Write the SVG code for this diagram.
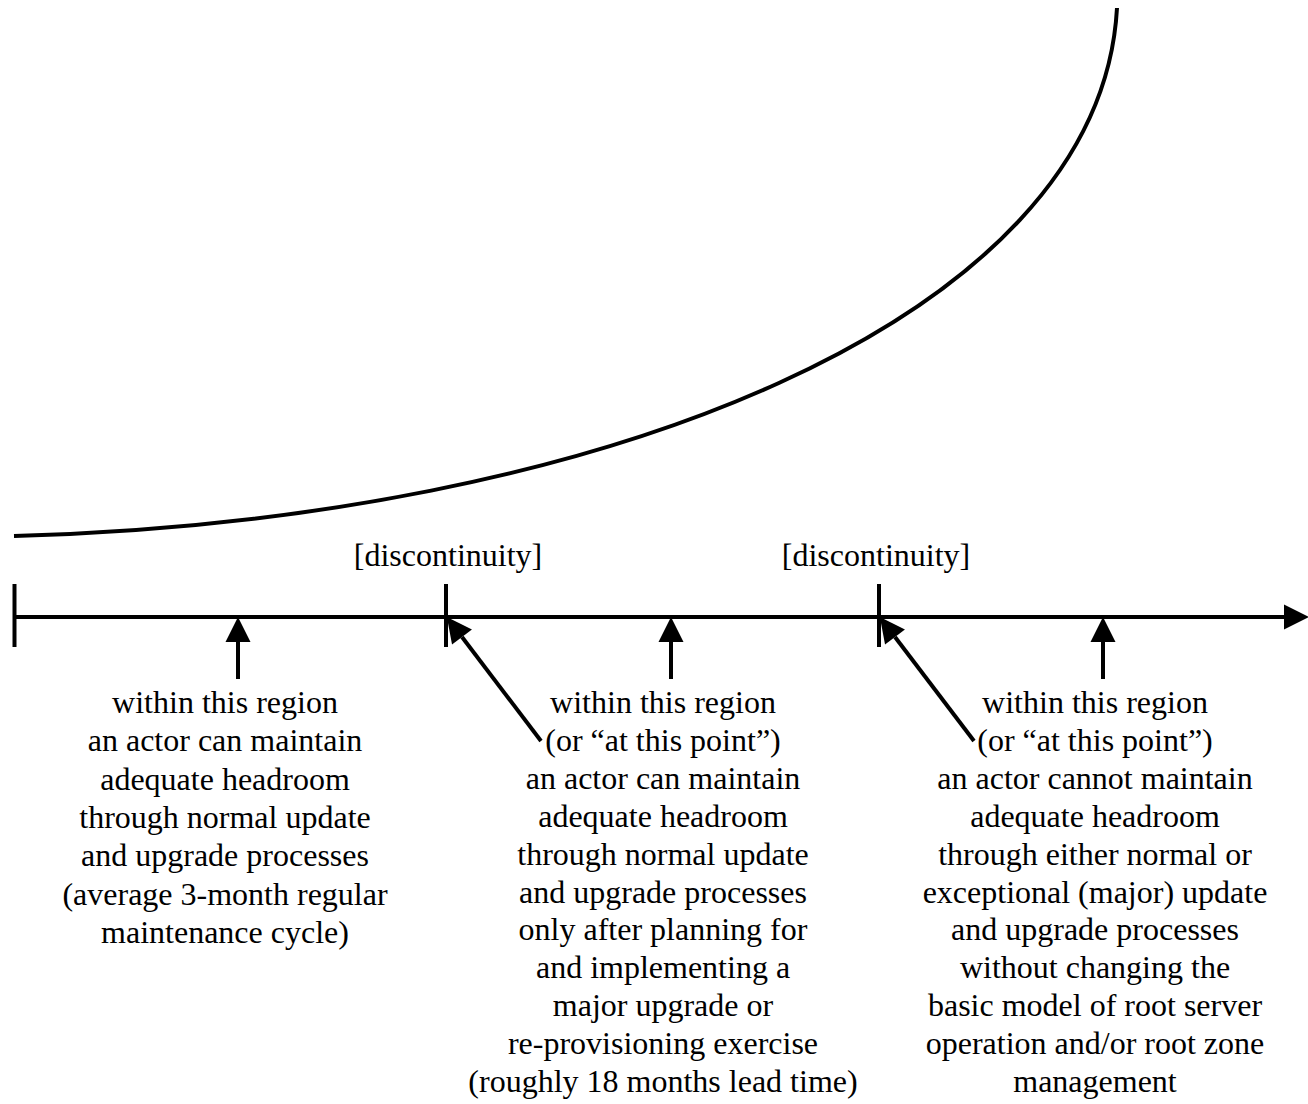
<svg xmlns="http://www.w3.org/2000/svg" width="1308" height="1104" viewBox="0 0 1308 1104">
<style>
.t{font-family:"Liberation Serif","Times New Roman",serif;font-size:32px;fill:#000;text-anchor:middle}
.ln{stroke:#000;stroke-width:4;fill:none}
.tk{stroke:#000;stroke-width:4}
</style>
<defs>
<marker id="ah" viewBox="0 0 25 25" refX="0" refY="12.5" markerWidth="25" markerHeight="25" markerUnits="userSpaceOnUse" orient="auto" overflow="visible">
<path d="M0,0 L25,12.5 L0,25 Z" fill="#000"/>
</marker>
</defs>
<rect width="1308" height="1104" fill="#fff"/>
<g id="curve">
<path class="ln" d="M14,536 C600,520 1100,320 1117,8"/>
</g>
<g id="axis">
<line class="ln" x1="14" y1="617" x2="1284" y2="617" marker-end="url(#ah)"/>
<line class="tk" x1="14.5" y1="584" x2="14.5" y2="647"/>
<line class="tk" x1="446" y1="584" x2="446" y2="647"/>
<line class="tk" x1="879" y1="584" x2="879" y2="647"/>
</g>
<g id="connectors">
<line class="ln" x1="238" y1="679" x2="238" y2="642" marker-end="url(#ah)"/>
<line class="ln" x1="671" y1="679" x2="671" y2="642" marker-end="url(#ah)"/>
<line class="ln" x1="1103" y1="679" x2="1103" y2="642" marker-end="url(#ah)"/>
<line class="ln" x1="541" y1="741" x2="462" y2="637" marker-end="url(#ah)"/>
<line class="ln" x1="974" y1="741" x2="895" y2="637" marker-end="url(#ah)"/>
</g>
<g id="disc1">
<text class="t" x="448" y="566">[discontinuity]</text>
</g>
<g id="disc2">
<text class="t" x="876" y="566">[discontinuity]</text>
</g>
<g id="label1">
<text class="t" x="225" y="713">within this region<tspan x="225" dy="38.3">an actor can maintain</tspan><tspan x="225" dy="38.3">adequate headroom</tspan><tspan x="225" dy="38.3">through normal update</tspan><tspan x="225" dy="38.3">and upgrade processes</tspan><tspan x="225" dy="38.3">(average 3-month regular</tspan><tspan x="225" dy="38.3">maintenance cycle)</tspan></text>
</g>
<g id="label2">
<text class="t" x="663" y="713">within this region<tspan x="663" dy="37.9">(or “at this point”)</tspan><tspan x="663" dy="37.9">an actor can maintain</tspan><tspan x="663" dy="37.9">adequate headroom</tspan><tspan x="663" dy="37.9">through normal update</tspan><tspan x="663" dy="37.9">and upgrade processes</tspan><tspan x="663" dy="37.9">only after planning for</tspan><tspan x="663" dy="37.9">and implementing a</tspan><tspan x="663" dy="37.9">major upgrade or</tspan><tspan x="663" dy="37.9">re-provisioning exercise</tspan><tspan x="663" dy="37.9">(roughly 18 months lead time)</tspan></text>
</g>
<g id="label3">
<text class="t" x="1095" y="713">within this region<tspan x="1095" dy="37.9">(or “at this point”)</tspan><tspan x="1095" dy="37.9">an actor cannot maintain</tspan><tspan x="1095" dy="37.9">adequate headroom</tspan><tspan x="1095" dy="37.9">through either normal or</tspan><tspan x="1095" dy="37.9">exceptional (major) update</tspan><tspan x="1095" dy="37.9">and upgrade processes</tspan><tspan x="1095" dy="37.9">without changing the</tspan><tspan x="1095" dy="37.9">basic model of root server</tspan><tspan x="1095" dy="37.9">operation and/or root zone</tspan><tspan x="1095" dy="37.9">management</tspan></text>
</g>
</svg>
